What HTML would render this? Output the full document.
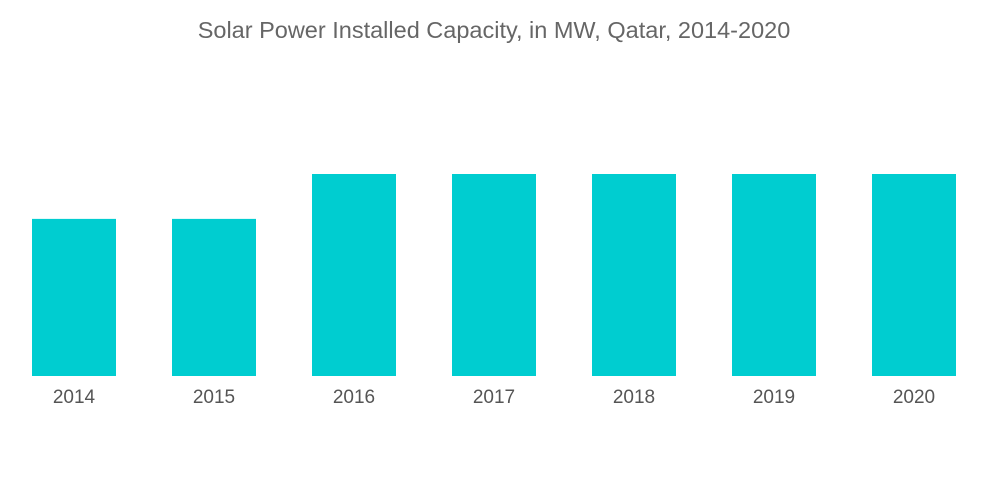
<!DOCTYPE html>
<html><head><meta charset="utf-8"><style>
body{margin:0;background:#fff;}
svg{display:block;font-family:"Liberation Sans",sans-serif;}
</style></head><body>
<svg id="chart" width="1000" height="504">
<text x="494" y="38" text-anchor="middle" font-size="23.5" fill="#666">Solar Power Installed Capacity, in MW, Qatar, 2014-2020</text>
<g id="bars"></g>
<g id="labels"></g>
</svg>
<script>
const categories=["2014","2015","2016","2017","2018","2019","2020"];
const values=[35,35,45,45,45,45,45];
const x0=32,step=140,bw=84,base=376,pxPerUnit=202/45;
const xPos=i=>x0+i*step;
const yScale=v=>base-v*pxPerUnit;
const ns="http://www.w3.org/2000/svg";
const bars=document.getElementById('bars'),labels=document.getElementById('labels');
categories.forEach((c,i)=>{
 const r=document.createElementNS(ns,'rect');
 r.setAttribute('x',xPos(i));r.setAttribute('width',bw);
 r.setAttribute('y',yScale(values[i]));r.setAttribute('height',base-yScale(values[i]));
 r.setAttribute('fill','#00CDD0');
 
 
 bars.appendChild(r);
 const t=document.createElementNS(ns,'text');
 t.setAttribute('x',xPos(i)+bw/2);t.setAttribute('y',403);
 t.setAttribute('text-anchor','middle');t.setAttribute('font-size','19');t.setAttribute('fill','#555');
 t.textContent=c;
 
 
 labels.appendChild(t);
});
</script>
</body></html>
